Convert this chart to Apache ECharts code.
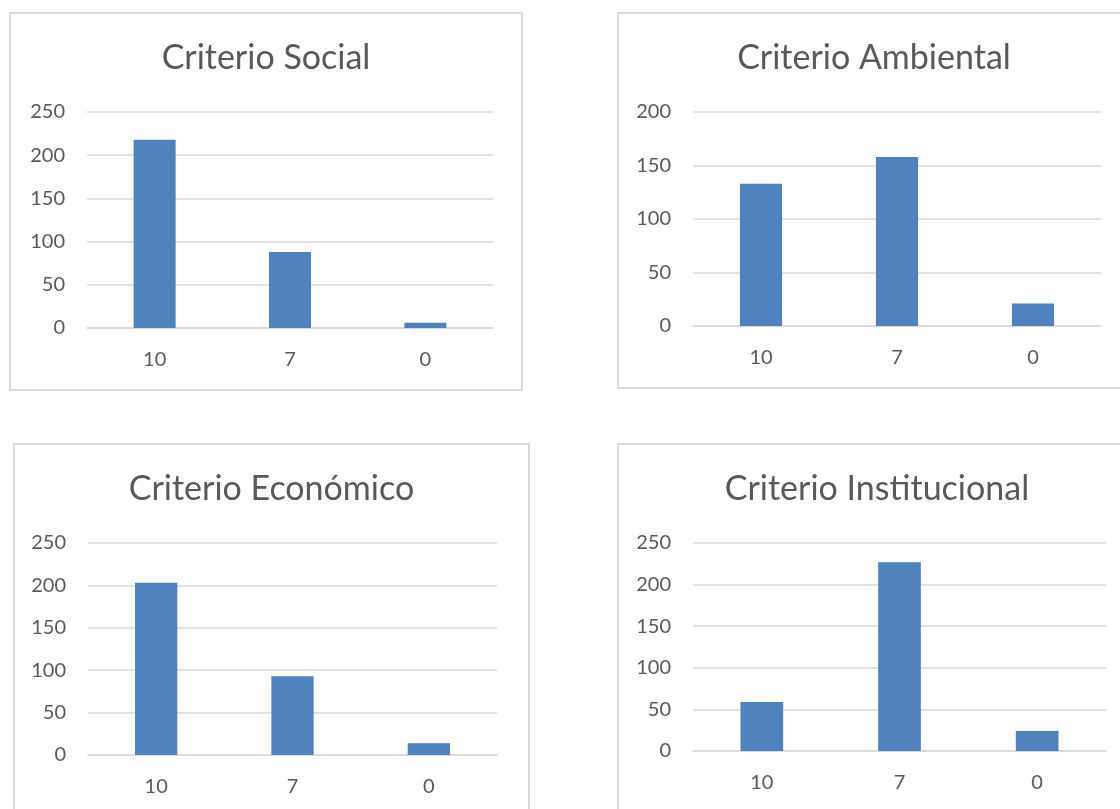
<!DOCTYPE html>
<html>

<head>
    <meta charset="utf-8">
    <title>Criterios</title>
    <script src="https://cdn.jsdelivr.net/npm/echarts@6/dist/echarts.min.js"></script>
    <style>
        html, body {
            margin: 0;
            padding: 0;
            width: 1120px;
            height: 809px;
            overflow: hidden;
            background: #fff;
        }

        .box {
            position: absolute;
            box-sizing: border-box;
            border: 2px solid #D9D9D9;
            background: #fff;
        }

        .chart {
            width: 100%;
            height: 100%;
        }
    </style>
</head>

<body>
    <div class="box" style="left:9px;top:12px;width:514px;height:379px;"><div class="chart" id="c1"></div></div>
    <div class="box" style="left:617px;top:12px;width:514px;height:377px;"><div class="chart" id="c2"></div></div>
    <div class="box" style="left:13px;top:443px;width:517px;height:400px;"><div class="chart" id="c3"></div></div>
    <div class="box" style="left:617px;top:443px;width:520px;height:400px;"><div class="chart" id="c4"></div></div>

    <script>
        // datos
        const categorias = ['10', '7', '0'];
        const social = [218, 88, 6];
        const ambiental = [133, 158, 21];
        const economico = [203, 93, 14];
        const institucional = [59, 227, 24];

        const FONT = 'Lato, "Liberation Sans", sans-serif';
        const TEXT = '#595959';

        function makeOption(titulo, valores, yMax, grid) {
            return {
                animation: false,
                textStyle: { fontFamily: FONT },
                title: {
                    text: titulo,
                    left: 'center',
                    top: 22,
                    textStyle: { fontSize: 34, fontWeight: 'normal', color: TEXT, fontFamily: FONT }
                },
                grid: grid,
                xAxis: {
                    type: 'category',
                    data: categorias,
                    axisLine: { show: true, lineStyle: { color: '#D9D9D9', width: 1.5 } },
                    axisTick: { show: false },
                    axisLabel: { color: TEXT, fontSize: 20, margin: 22, fontFamily: FONT }
                },
                yAxis: {
                    type: 'value',
                    min: 0,
                    max: yMax,
                    interval: 50,
                    axisLine: { show: false },
                    axisTick: { show: false },
                    axisLabel: { color: TEXT, fontSize: 20, margin: 22, fontFamily: FONT },
                    splitLine: { lineStyle: { color: '#D9D9D9', width: 1.5 } }
                },
                series: [{
                    type: 'bar',
                    data: valores,
                    barWidth: '31%',
                    itemStyle: { color: '#4F81BD' }
                }]
            };
        }

        echarts.init(document.getElementById('c1')).setOption(
            makeOption('Criterio Social', social, 250, { left: 76, top: 98, width: 406, height: 216 }));
        echarts.init(document.getElementById('c2')).setOption(
            makeOption('Criterio Ambiental', ambiental, 200, { left: 74, top: 98, width: 408, height: 214 }));
        echarts.init(document.getElementById('c3')).setOption(
            makeOption('Criterio Económico', economico, 250, { left: 73, top: 98, width: 409, height: 212 }));
        echarts.init(document.getElementById('c4')).setOption(
            makeOption('Criterio Institucional', institucional, 250, { left: 74, top: 98, width: 413, height: 208 }));
    </script>
</body>

</html>
